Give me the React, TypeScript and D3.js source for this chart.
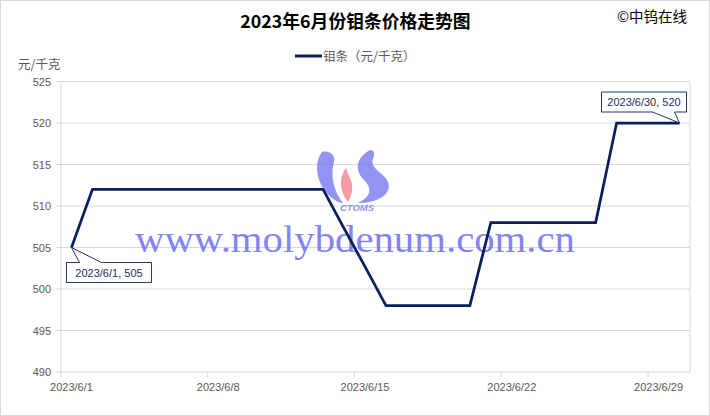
import React from "react";
import * as d3 from "d3";

const dates: string[] = [
  "2023-06-01","2023-06-02","2023-06-03","2023-06-04","2023-06-05","2023-06-06","2023-06-07","2023-06-08","2023-06-09","2023-06-10",
  "2023-06-11","2023-06-12","2023-06-13","2023-06-14","2023-06-15","2023-06-16","2023-06-17","2023-06-18","2023-06-19","2023-06-20",
  "2023-06-21","2023-06-22","2023-06-23","2023-06-24","2023-06-25","2023-06-26","2023-06-27","2023-06-28","2023-06-29","2023-06-30",
];
const prices: number[] = [
  505,512,512,512,512,512,512,512,512,512,
  512,512,512,507.3,502.7,498,498,498,498,498,
  508,508,508,508,508,508,520,520,520,520,
];
const yTicks: number[] = [490, 495, 500, 505, 510, 515, 520, 525];
const xTickDates: string[] = ["2023-06-01", "2023-06-08", "2023-06-15", "2023-06-22", "2023-06-29"];

const W = 710, H = 416;
const parse = d3.timeParse("%Y-%m-%d");
const fmt = d3.timeFormat("%Y/%-m/%-d");

const LINE = "#0a1f5c";
const GRID = "#d9d9d9";
const TXT = "#595959";
const CJK = "'Noto Sans CJK SC', 'Noto Sans', sans-serif";
const LAT = "'Liberation Sans', Arial, sans-serif";

export default function App() {
  const x = d3.scaleTime()
    .domain([parse("2023-06-01")!, parse("2023-07-01")!])
    .range([61, 690]);
  const y = d3.scaleLinear().domain([490, 525]).range([372, 81.5]);
  const mid = (s: string) => x(d3.timeHour.offset(parse(s)!, 12));

  const pts = dates.map((d, i) => ({ x: mid(d), y: y(prices[i]), d, v: prices[i] }));
  const line = d3.line<{ x: number; y: number }>().x(p => p.x).y(p => p.y);

  const first = pts[0];
  const last = pts[pts.length - 1];

  const c1 = (() => {
    const px = first.x, py = first.y;
    const x0 = px - 5, x1 = px + 80, y0 = py + 15, y1 = py + 35;
    return {
      path: `M${x0},${y0}L${px + 8},${y0}L${px},${py}L${px + 30},${y0}L${x1},${y0}L${x1},${y1}L${x0},${y1}Z`,
      tx: (x0 + x1) / 2, ty: (y0 + y1) / 2,
    };
  })();
  const c2 = (() => {
    const px = last.x, py = last.y;
    const x0 = px - 78, x1 = px + 7, y0 = py - 31, y1 = py - 11;
    return {
      path: `M${x0},${y0}L${x1},${y0}L${x1},${y1}L${px - 5},${y1}L${px},${py}L${px - 27},${y1}L${x0},${y1}Z`,
      tx: (x0 + x1) / 2, ty: (y0 + y1) / 2,
    };
  })();

  return (
    <div style={{ position: "absolute", left: 0, top: 0 }}>
      <svg width={W} height={H} style={{ display: "block", background: "#fff" }}>
        <rect x={0.5} y={0.5} width={W - 1} height={H - 1} fill="#fff" stroke={GRID} />
        <text x={355.5} y={28} textAnchor="middle" fontFamily={CJK} fontWeight="bold" fontSize={17.8} fill="#000">
          2023年6月份钼条价格走势图
        </text>
        <text x={687} y={22} textAnchor="end" fontFamily={CJK} fontSize={14.5} fill="#000">©中钨在线</text>

        {/* legend */}
        <line x1={295} x2={322} y1={56} y2={56} stroke={LINE} strokeWidth={3} />
        <text x={323} y={60.5} fontFamily={CJK} fontSize={12.5} fill={TXT}>钼条（元/千克）</text>

        <text x={18} y={69} fontFamily={CJK} fontSize={12.5} fill={TXT}>元/千克</text>

        {/* grid */}
        {yTicks.map(t => (
          <g key={t}>
            <line x1={61} x2={690} y1={y(t)} y2={y(t)} stroke={GRID} strokeWidth={1} />
            <line x1={56} x2={61} y1={y(t)} y2={y(t)} stroke={GRID} strokeWidth={1} />
            <text x={51} y={y(t) + 4} textAnchor="end" fontFamily={LAT} fontSize={11} fill={TXT}>{t}</text>
          </g>
        ))}
        <line x1={61} x2={61} y1={y(525)} y2={y(490)} stroke={GRID} />
        <line x1={690} x2={690} y1={y(525)} y2={y(490)} stroke={GRID} />
        {xTickDates.map(s => (
          <g key={s}>
            <line x1={x(parse(s)!)} x2={x(parse(s)!)} y1={y(490)} y2={y(490) + 5} stroke={GRID} />
            <text x={mid(s)} y={391} textAnchor="middle" fontFamily={LAT} fontSize={11} fill={TXT}>{fmt(parse(s)!)}</text>
          </g>
        ))}

        {/* watermark */}
        <g opacity={0.75}>
          <path d="M322,152 C314,162 316,180 326,192 C332,200 340,203 343,203 C334,192 330,176 334,162 C336,156 330,150 322,152 Z" fill="#6f6ff0" />
          <path d="M346,168 C338,178 340,192 348,202 C352,196 354,186 350,178 C348,174 347,171 346,168 Z" fill="#f47a86" />
          <path d="M370,150 C356,158 354,170 364,180 C372,188 372,196 358,203 C380,203 394,192 387,180 C380,170 368,168 374,156 C375,152 373,150 370,150 Z" fill="#6f6ff0" />
          <text x={357} y={211} textAnchor="middle" fontFamily={LAT} fontStyle="italic" fontWeight="bold" fontSize={9.5} fill="#6f6ff0">CTOMS</text>
        </g>
        <text x={135} y={252} textLength={440} lengthAdjust="spacingAndGlyphs"
          fontFamily="'Liberation Serif', 'DejaVu Serif', serif" fontSize={38} fill="#6e6ef0" opacity={0.85}>
          www.molybdenum.com.cn
        </text>

        {/* series */}
        <path d={line(pts) || ""} fill="none" stroke={LINE} strokeWidth={2.75} strokeLinejoin="miter" />

        {/* callouts */}
        <path d={c1.path} fill="#fff" stroke={LINE} strokeWidth={0.9} />
        <text x={c1.tx} y={c1.ty + 4} textAnchor="middle" fontFamily={LAT} fontSize={11} fill="#1f2f5f">
          {fmt(parse(first.d)!)}, {first.v}
        </text>
        <path d={c2.path} fill="#fff" stroke={LINE} strokeWidth={0.9} />
        <text x={c2.tx} y={c2.ty + 4} textAnchor="middle" fontFamily={LAT} fontSize={11} fill="#1f2f5f">
          {fmt(parse(last.d)!)}, {last.v}
        </text>
      </svg>
    </div>
  );
}
